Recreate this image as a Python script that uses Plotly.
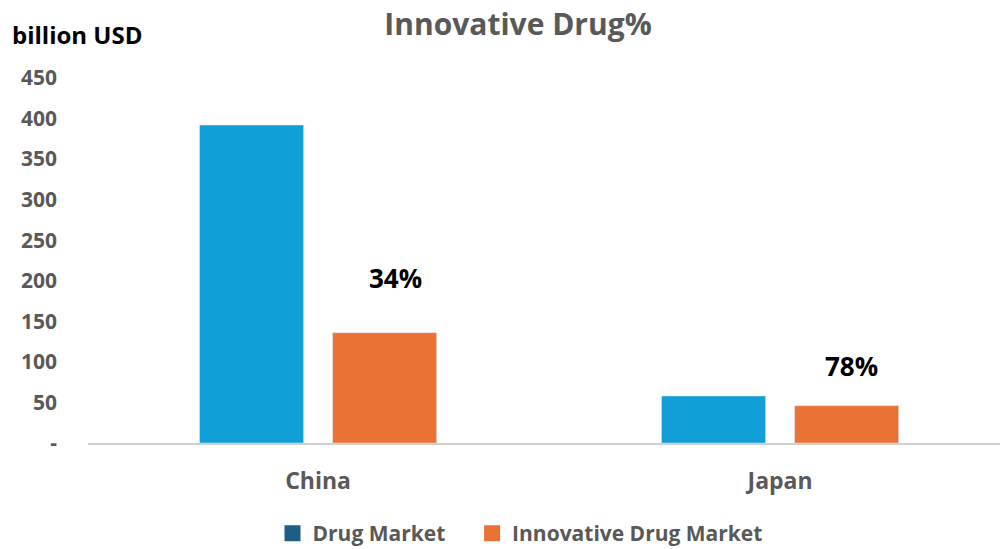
import plotly.graph_objects as go

categories = ["China", "Japan"]
drug_market = [392, 58]
innovative_market = [136, 46]
pct_labels = ["34%", "78%"]
pct_label_y = [203, 95]
tick_vals = [0, 50, 100, 150, 200, 250, 300, 350, 400, 450]
tick_text = ["-", "50", "100", "150", "200", "250", "300", "350", "400", "450"]

BLUE = "#109FD6"
ORANGE = "#EA7234"
LEG_BLUE = "#1B5F85"
GRAY = "#595959"
FONT = "Open Sans"
label_xshift = [77, 71]

fig = go.Figure()
fig.add_trace(go.Bar(x=categories, y=drug_market, marker_color=BLUE, showlegend=False, name="Drug Market"))
fig.add_trace(go.Bar(x=categories, y=innovative_market, marker_color=ORANGE, showlegend=False, name="Innovative Drug Market"))
# legend entries
NB = "\u00a0"
fig.add_trace(go.Scatter(x=[None], y=[None], mode="markers", name="Drug Market" + NB * 4,
                         marker=dict(symbol="square", size=16, color=LEG_BLUE)))
fig.add_trace(go.Scatter(x=[None], y=[None], mode="markers", name="Innovative Drug Market",
                         marker=dict(symbol="square", size=16, color=ORANGE)))

for c, t, yv, xs in zip(categories, pct_labels, pct_label_y, label_xshift):
    fig.add_annotation(x=c, y=yv, text=t, showarrow=False, xshift=xs,
                       font=dict(family=FONT, size=26, color="black", weight="bold"))

fig.update_layout(
    width=1000, height=549,
    margin=dict(l=88, r=0, t=78, b=106, autoexpand=False),
    paper_bgcolor="white", plot_bgcolor="white",
    barmode="group", bargap=0.424, bargroupgap=0.218,
    title=dict(text="Innovative Drug%", x=0.518, xanchor="center", y=0.955, yanchor="middle",
               font=dict(family=FONT, size=30, color=GRAY, weight="bold")),
    font=dict(family=FONT, color=GRAY),
    legend=dict(orientation="h", xref="container", x=0.52, xanchor="center",
                yref="container", y=0.028, yanchor="middle",
                font=dict(family=FONT, size=21, color=GRAY, weight="bold"),
                itemwidth=30, tracegroupgap=0),
    xaxis=dict(showline=True, linecolor="#D0D0D0", linewidth=2, ticks="",
               range=[-0.498, 1.476],
               tickfont=dict(family=FONT, size=23, color=GRAY, weight="bold"),
               ticklabelstandoff=16, showgrid=False),
    yaxis=dict(range=[0, 450], tickvals=tick_vals, ticktext=tick_text, showgrid=False,
               zeroline=False, showline=False, ticks="",
               tickfont=dict(family=FONT, size=21, color=GRAY, weight="bold"),
               ticklabelstandoff=30),
)
fig.add_annotation(xref="paper", yref="paper", x=-0.085, y=1.118, xanchor="left", yanchor="middle",
                   text="billion USD", showarrow=False,
                   font=dict(family=FONT, size=24, color="black", weight="bold"))

fig.write_html("out.html")
